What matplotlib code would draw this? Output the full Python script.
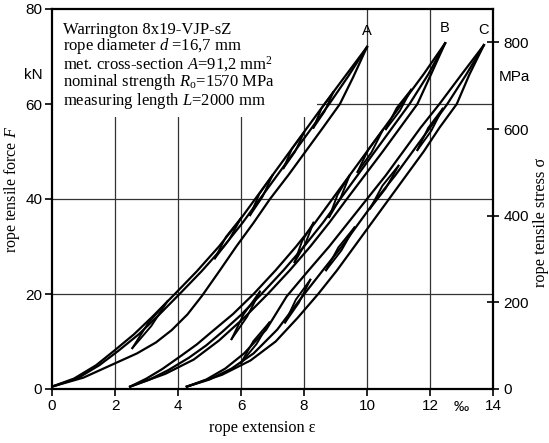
import numpy as np
import matplotlib
matplotlib.use("Agg")
import matplotlib.pyplot as plt
from matplotlib.patches import Rectangle

# ---- data (extension in per mille, force in kN) ----
A_load_x = [0.0, 0.7, 1.4, 2.0, 2.6, 3.2, 3.9, 4.6, 5.3, 5.9, 6.45, 7.0, 7.55, 8.1, 8.65, 9.3, 10.0]
A_load_F = [0.5, 2.2, 5.0, 8.2, 11.5, 15.3, 20, 24.8, 30, 35, 40, 45, 50, 55, 60, 65.8, 72]
A_rel_x = [0.0, 0.8, 1.5, 2.1, 2.75, 3.35, 4.05, 4.75, 5.45, 6.05, 6.6, 7.15, 7.7, 8.25, 8.8, 9.4, 10.0]
A_rel_F = [0.5, 2.2, 5.0, 8.0, 11.5, 15.3, 20, 24.8, 30, 35, 40, 45, 50, 55, 60, 65.8, 72]
A_unl_x = [10.0, 9.55, 9.14, 8.6, 8.05, 7.5, 6.92, 6.4, 5.85, 5.3, 4.76, 4.3, 3.8, 3.3, 2.7, 2.0, 1.0, 0.0]
A_unl_F = [72, 65.5, 60, 55, 50, 45, 40, 35, 30, 24.7, 19.6, 15.7, 12.4, 9.8, 7.5, 5.4, 2.4, 0.5]

B_load_x = [2.48, 3.0, 3.5, 4.1, 4.6, 5.1, 5.75, 6.4, 7.1, 7.75, 8.35, 8.9, 9.45, 10.0, 10.55, 11.1, 11.8, 12.48]
B_load_F = [0.5, 2.2, 4.2, 7.0, 9.4, 12.2, 15.8, 20, 25, 30, 35, 40, 45, 50, 55, 60, 66.3, 72.8]
B_rel_x = [2.48, 3.1, 3.7, 4.35, 4.9, 5.4, 6.0, 6.65, 7.35, 8.0, 8.6, 9.15, 9.7, 10.25, 10.8, 11.35, 11.95, 12.48]
B_rel_F = [0.5, 2.0, 4.0, 6.6, 9.2, 12.0, 15.6, 20, 25, 30, 35, 40, 45, 50, 55, 60, 66.3, 72.8]
B_unl_x = [12.48, 12.05, 11.6, 11.05, 10.5, 9.93, 9.36, 8.8, 8.2, 7.55, 6.85, 6.1, 5.3, 4.5, 3.6, 2.48]
B_unl_F = [72.8, 66.5, 60, 55, 50, 45, 40, 35, 30, 25, 20, 15, 10.2, 6.2, 3.2, 0.5]

C_load_x = [4.28, 4.9, 5.5, 6.1, 6.8, 7.45, 8.15, 8.8, 9.4, 10.0, 10.6, 11.15, 11.7, 12.3, 13.0, 13.71]
C_load_F = [0.5, 2.0, 4.3, 7.5, 12.5, 19.5, 25, 30, 35, 40, 45, 50, 55, 60, 66.2, 72.4]
C_rel_x = [4.28, 5.0, 5.7, 6.4, 7.15, 7.95, 8.6, 9.2, 9.75, 10.3, 10.9, 11.45, 12.0, 12.55, 13.15, 13.71]
C_rel_F = [0.5, 2.0, 4.3, 7.5, 12.5, 19.5, 25, 30, 35, 40, 45, 50, 55, 60, 66.2, 72.4]
C_unl_x = [13.71, 13.25, 12.85, 12.3, 11.8, 11.25, 10.7, 10.15, 9.6, 9.05, 8.45, 7.8, 7.1, 6.3, 5.4, 4.28]
C_unl_F = [72.4, 66.2, 60, 55, 50, 45, 40, 35, 30, 25, 20, 15, 10, 6, 3, 0.5]

# small unloading loops: lower tip and the point where they rejoin
A_tip_x = [2.55, 5.17, 6.29, 7.35, 8.3]
A_tip_F = [8.6, 27.5, 36.6, 46.5, 55]
A_top_x = [3.67, 6.0, 7.0, 8.0, 8.93]
A_top_F = [18.5, 36, 45, 54, 62.5]
B_tip_x = [5.7, 7.7, 8.8, 9.7, 10.6]
B_tip_F = [10.5, 26.7, 36.2, 45.7, 54.7]
B_top_x = [6.6, 8.3, 9.45, 10.5, 11.4]
B_top_F = [20.5, 35, 45, 54.5, 63]
C_tip_x = [6.0, 7.4, 8.7, 10.1, 11.6]
C_tip_F = [5.5, 14, 25, 38, 50.3]
C_top_x = [6.9, 8.2, 9.6, 11.0, 12.4]
C_top_F = [14, 23, 34, 47, 59]

peak_labels = ["A", "B", "C"]
peak_x = [10.0, 12.48, 13.71]
peak_F = [72, 72.8, 72.4]

x_ticks = [0, 2, 4, 6, 8, 10, 12, 14]
F_ticks = [0, 20, 40, 60, 80]
stress_ticks = [0, 200, 400, 600, 800]
area = 91.2  # mm^2

serif = "Liberation Serif"
sans = "Liberation Sans"
plt.rcParams["mathtext.fontset"] = "custom"
plt.rcParams["mathtext.it"] = "Liberation Serif:italic"
plt.rcParams["mathtext.rm"] = "Liberation Serif"

fig = plt.figure(figsize=(5.49, 4.43), dpi=100)
ax = fig.add_axes([52 / 549, 1 - 389 / 443, 441 / 549, 380 / 443])
ax.set_xlim(0, 14)
ax.set_ylim(0, 80)

# grid
for gx in x_ticks[1:-1]:
    ax.axvline(gx, color="#333333", lw=0.9, zorder=1)
for gy in F_ticks[1:-1]:
    ax.axhline(gy, color="#333333", lw=0.9, zorder=1)

# white area behind the info text
ax.add_patch(Rectangle((0, 57.3), 8.42, 23, facecolor="white", edgecolor="none", zorder=2))

lw = 1.6
for xs, fs in [(A_load_x, A_load_F), (A_rel_x, A_rel_F), (A_unl_x, A_unl_F),
               (B_load_x, B_load_F), (B_rel_x, B_rel_F), (B_unl_x, B_unl_F),
               (C_load_x, C_load_F), (C_rel_x, C_rel_F), (C_unl_x, C_unl_F)]:
    ax.plot(xs, fs, color="black", lw=lw, solid_joinstyle="round", zorder=3)

for tx, tf, ux, uf in [(A_tip_x, A_tip_F, A_top_x, A_top_F),
                       (B_tip_x, B_tip_F, B_top_x, B_top_F),
                       (C_tip_x, C_tip_F, C_top_x, C_top_F)]:
    for x0, f0, x1, f1 in zip(tx, tf, ux, uf):
        mx, mf = (x0 + x1) / 2, (f0 + f1) / 2
        ax.plot([x0, mx - 0.06, x1], [f0, mf + 0.3, f1], color="black", lw=1.4, zorder=3)
        ax.plot([x0, mx + 0.04, x1], [f0, mf - 0.3, f1], color="black", lw=1.4, zorder=3)

for lab, px, pf in zip(peak_labels, peak_x, peak_F):
    ax.text(px, pf + 1.8, lab, ha="center", va="bottom", fontsize=10.5, family=sans)

# axes styling
for s in ["top", "right", "left", "bottom"]:
    ax.spines[s].set_linewidth(1.6)
ax.set_xticks(x_ticks)
ax.set_yticks(F_ticks)
ax.tick_params(axis="both", labelsize=11, width=1.2, length=5, direction="out", pad=2)
for t in ax.get_xticklabels() + ax.get_yticklabels():
    t.set_family(sans)

ax2 = ax.twinx()
ax2.set_ylim(0, 80 * 1000 / area)
ax2.set_yticks(stress_ticks)
ax2.tick_params(axis="y", labelsize=11, width=1.2, length=9, direction="inout", pad=3)
for t in ax2.get_yticklabels():
    t.set_family(sans)
for s in ax2.spines.values():
    s.set_visible(False)

# unit labels
fig.text(33 / 549, 1 - 75 / 443, "kN", fontsize=11, family=sans, ha="center", va="center")
fig.text(514 / 549, 1 - 77 / 443, "MPa", fontsize=11, family=sans, ha="center", va="center")
fig.text(461 / 549, 1 - 407 / 443, "‰", fontsize=11, family=sans, ha="center", va="center")

# axis titles
fig.text(262 / 549, 1 - 428 / 443, "rope extension ε", fontsize=11.7, family=serif,
         ha="center", va="center")
fig.text(12 / 549, 1 - 190 / 443, "rope tensile force $F$", fontsize=11.5, family=serif,
         ha="center", va="center", rotation=90)
fig.text(541 / 549, 1 - 222 / 443, "rope tensile stress σ", fontsize=11.7, family=serif,
         ha="center", va="center", rotation=90)

info = ("Warrington 8x19-VJP-sZ\n"
        "rope diameter $d$ =16,7 mm\n"
        "met. cross-section $A$=91,2 mm$^2$\n"
        "nominal strength $R_{\\mathrm{o}}$=1570 MPa\n"
        "measuring length $L$=2000 mm")
fig.text(63 / 549, 1 - 22 / 443, info, fontsize=12, family=serif, ha="left", va="top",
         linespacing=0.88)

fig.savefig("out.png", dpi=100)
